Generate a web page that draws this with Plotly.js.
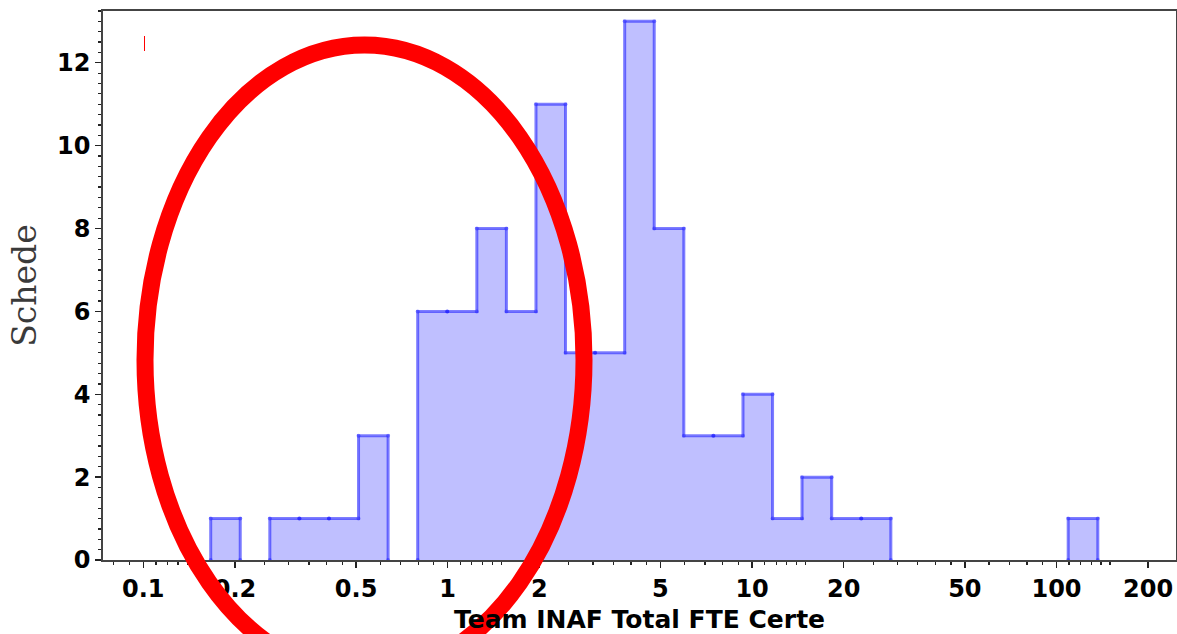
<!DOCTYPE html>
<html>
<head>
<meta charset="utf-8">
<script src="https://cdn.plot.ly/plotly-3.0.1.min.js"></script>
<style>
  html, body { margin: 0; padding: 0; background: #ffffff; }
  #chart { width: 1177px; height: 634px; }
</style>
</head>
<body>
<div id="chart"></div>
<script>
// Histogram bin edges (log-spaced)
const binEdges = [0.1665, 0.2082, 0.2604, 0.3257, 0.4074, 0.5094, 0.6371, 0.7969, 0.9966,
  1.2465, 1.559, 1.9498, 2.438, 3.049, 3.814, 4.770, 5.966, 7.461, 9.333,
  11.672, 14.59, 18.256, 22.83, 28.56, 35.71, 44.66, 55.86, 69.85, 87.38, 109.26, 136.7];
// Counts per bin ("Schede")
const binCounts = [1, 0, 1, 1, 1, 3, 0, 6, 6, 8, 6, 11, 5, 5, 13, 8, 3, 3, 4, 1, 2, 1, 1, 0, 0, 0, 0, 0, 0, 1];

// Axis ticks
const xTickVals = [0.1, 0.2, 0.5, 1, 2, 5, 10, 20, 50, 100, 200];
const xTickText = ["0.1", "0.2", "0.5", "1", "2", "5", "10", "20", "50", "100", "200"];
const xMinorVals = [0.08, 0.09, 0.11, 0.12, 0.13, 0.14, 0.15, 0.25, 0.3, 0.35, 0.4, 0.45,
  0.6, 0.7, 0.8, 0.9, 1.1, 1.2, 1.3, 1.4, 1.5, 2.5, 3, 3.5, 4, 4.5, 6, 7, 8, 9,
  11, 12, 13, 14, 15, 25, 30, 35, 40, 45, 60, 70, 80, 90, 110, 120, 130, 140, 150];
const yTickVals = [0, 2, 4, 6, 8, 10, 12];

const xTitle = "Team INAF Total FTE Certe";
const yTitle = "Schede";

// Build the step outline of the histogram
const xs = [], ys = [];
for (let i = 0; i < binCounts.length; i++) {
  const c = binCounts[i];
  const prev = i > 0 ? binCounts[i - 1] : 0;
  if (c === 0) {
    if (i > 0 && prev !== 0) { xs.push(binEdges[i]); ys.push(0); xs.push(null); ys.push(null); }
    continue;
  }
  if (prev === 0) { xs.push(binEdges[i]); ys.push(0); }
  xs.push(binEdges[i]); ys.push(c);
  xs.push(binEdges[i + 1]); ys.push(c);
}
if (binCounts[binCounts.length - 1] !== 0) { xs.push(binEdges[binEdges.length - 1]); ys.push(0); }

const trace = {
  type: 'scatter',
  mode: 'lines+markers',
  x: xs, y: ys,
  connectgaps: false,
  fill: 'tozeroy',
  fillcolor: 'rgba(0,0,255,0.25)',
  line: { color: 'rgba(20,20,255,0.55)', width: 3, shape: 'linear' },
  marker: { color: 'rgba(0,0,255,0.35)', size: 4 },
  hoverinfo: 'x+y',
  showlegend: false
};

const W = 1177, H = 634;
const L = 103, R = 1, T = 11, B = 74;
const pw = W - L - R, ph = H - T - B;
function px(x) { return (x - L) / pw; }
function py(y) { return (H - B - y) / ph; }

const tickFont = { family: 'DejaVu Sans', size: 24, color: '#000', weight: 'bold' };

const layout = {
  width: W, height: H,
  margin: { l: L, r: R, t: T, b: B, pad: 0 },
  paper_bgcolor: '#ffffff',
  plot_bgcolor: '#ffffff',
  font: { family: 'DejaVu Sans', size: 24, color: '#000000' },
  xaxis: {
    type: 'log',
    range: [-1.1324, 2.3926],
    tickmode: 'array', tickvals: xTickVals, ticktext: xTickText,
    ticks: 'outside', ticklen: 6, tickwidth: 1.4, tickcolor: '#222',
    minor: { tickmode: 'array', tickvals: xMinorVals, ticks: 'outside', ticklen: 3, tickwidth: 1.2, tickcolor: '#222', showgrid: false },
    showgrid: false, zeroline: false,
    showline: true, linecolor: '#444', linewidth: 1.8, mirror: true,
    tickfont: tickFont,
    title: { text: xTitle, font: { family: 'DejaVu Sans', size: 25, color: '#000', weight: 'bold' }, standoff: 14 },
    automargin: false
  },
  yaxis: {
    range: [0, 13.25],
    tickmode: 'array', tickvals: yTickVals,
    ticks: 'outside', ticklen: 6, tickwidth: 1.4, tickcolor: '#222',
    minor: { dtick: 0.25, ticks: 'outside', ticklen: 3, tickwidth: 1.2, tickcolor: '#222', showgrid: false },
    showgrid: false, zeroline: false,
    showline: true, linecolor: '#444', linewidth: 1.8, mirror: true,
    tickfont: tickFont,
    title: { text: yTitle, font: { family: 'DejaVu Serif', size: 33, color: '#3a3a3a' }, standoff: 10 },
    automargin: false
  },
  shapes: [
    { type: 'circle', xref: 'paper', yref: 'paper',
      x0: px(145), x1: px(584), y0: py(675), y1: py(45),
      line: { color: '#ff0000', width: 17 }, layer: 'above' },
    { type: 'line', xref: 'paper', yref: 'paper',
      x0: px(144.5), x1: px(144.5), y0: py(51), y1: py(36),
      line: { color: '#ff0000', width: 1 }, layer: 'above' }
  ]
};

Plotly.newPlot('chart', [trace], layout, { displayModeBar: false, staticPlot: true });
</script>
</body>
</html>
